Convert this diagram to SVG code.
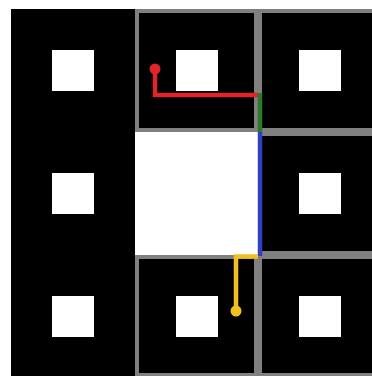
<svg xmlns="http://www.w3.org/2000/svg" width="372" height="376" viewBox="0 0 372 376">
<style>
.cell{fill:#000;stroke:#808080;stroke-width:4}
.sq{fill:#fff}
.wire{fill:none;stroke-width:4.5;stroke-linejoin:miter;stroke-linecap:butt}
</style>
<rect x="0" y="0" width="372" height="376" fill="#fff"/>
<g id="col-left">
<rect x="11" y="9" width="124" height="369" fill="#000"/>
<rect class="sq" x="52" y="50" width="42" height="41"/>
<rect class="sq" x="52" y="173" width="42" height="41"/>
<rect class="sq" x="52" y="296" width="42" height="41"/>
</g>
<g id="cell-mid-top">
<rect class="cell" x="137" y="11" width="119" height="119"/>
<rect class="sq" x="176" y="50" width="42" height="41"/>
</g>
<g id="cell-center">
<rect x="135" y="132" width="123" height="123" fill="#fff"/>
</g>
<g id="cell-mid-bottom">
<rect class="cell" x="137" y="257" width="119" height="118"/>
<rect class="sq" x="176" y="296" width="42" height="41"/>
</g>
<g id="cell-right-top">
<rect class="cell" x="260" y="11" width="130" height="119"/>
<rect class="sq" x="299" y="50" width="42" height="41"/>
</g>
<g id="cell-right-mid">
<rect class="cell" x="260" y="134" width="130" height="119"/>
<rect class="sq" x="299" y="173" width="42" height="41"/>
</g>
<g id="cell-right-bottom">
<rect class="cell" x="260" y="257" width="130" height="118"/>
<rect class="sq" x="299" y="296" width="42" height="41"/>
</g>
<g id="connectors">
<path class="wire" stroke="#e02428" d="M155 69 V95 H259"/>
<circle cx="155" cy="69" r="5.5" fill="#e02428"/>
<path class="wire" stroke="#2a7a2a" d="M260 93 V132"/>
<path class="wire" stroke="#3040c0" d="M260 132 V256"/>
<path class="wire" stroke="#f2c01e" d="M236 311 V256.5 H258"/>
<circle cx="236" cy="311" r="5.5" fill="#f2c01e"/>
</g>
</svg>
